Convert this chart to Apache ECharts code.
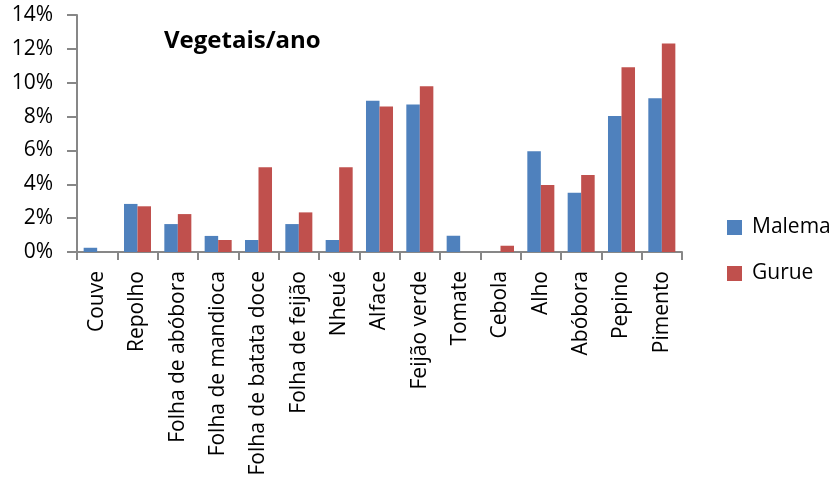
<!DOCTYPE html>
<html>
<head>
<meta charset="utf-8">
<script src="https://cdn.jsdelivr.net/npm/echarts@6/dist/echarts.min.js"></script>
<style>
  html, body { margin: 0; padding: 0; background: #fff; }
  #chart { width: 837px; height: 500px; }
</style>
</head>
<body>
<div id="chart"></div>
<script>
// Share of vegetables consumed per year, by district (percent)
const categories = [
  'Couve', 'Repolho', 'Folha de abóbora', 'Folha de mandioca',
  'Folha de batata doce', 'Folha de feijão', 'Nheué', 'Alface',
  'Feijão verde', 'Tomate', 'Cebola', 'Alho', 'Abóbora', 'Pepino', 'Pimento'
];
const malema = [0.25, 2.84, 1.65, 0.95, 0.71, 1.65, 0.71, 8.94, 8.72, 0.96, 0, 5.95, 3.50, 8.03, 9.08];
const gurue  = [0, 2.70, 2.24, 0.71, 5.0, 2.34, 5.0, 8.59, 9.79, 0, 0.37, 3.96, 4.55, 10.92, 12.32];
const yTicks = [0, 2, 4, 6, 8, 10, 12, 14];

const FONT = 'Open Sans';
const chart = echarts.init(document.getElementById('chart'), null, { renderer: 'canvas' });

chart.setOption({
  animation: false,
  backgroundColor: '#ffffff',
  textStyle: { fontFamily: FONT },
  title: {
    text: 'Vegetais/ano',
    left: 159,
    top: 24,
    textStyle: { fontFamily: FONT, fontSize: 24, fontWeight: 'bold', color: '#000' }
  },
  legend: {
    orient: 'vertical',
    left: 722,
    top: 212,
    itemWidth: 15,
    itemHeight: 15,
    itemGap: 25,
    icon: 'rect',
    textStyle: { fontFamily: FONT, fontSize: 21, color: '#000', padding: [0, 0, 0, 5] },
    data: ['Malema', 'Gurue']
  },
  grid: { left: 77, right: 155, top: 15, bottom: 248, containLabel: false },
  xAxis: {
    type: 'category',
    data: categories,
    axisLine: { lineStyle: { color: '#878787', width: 2 } },
    axisTick: { show: true, length: 8, alignWithLabel: false, lineStyle: { color: '#878787', width: 2 } },
    axisLabel: { rotate: 90, margin: 19, interval: 0, fontFamily: FONT, fontSize: 21, color: '#000' },
    splitLine: { show: false }
  },
  yAxis: {
    type: 'value',
    min: yTicks[0],
    max: yTicks[yTicks.length - 1],
    interval: yTicks[1] - yTicks[0],
    axisLine: { show: true, lineStyle: { color: '#878787', width: 2 } },
    axisTick: { show: true, length: 10, lineStyle: { color: '#878787', width: 2 } },
    axisLabel: { formatter: '{value}%', margin: 24, fontFamily: FONT, fontSize: 21, color: '#000' },
    splitLine: { show: false }
  },
  series: [
    {
      name: 'Malema',
      type: 'bar',
      data: malema,
      barGap: '0%',
      barCategoryGap: '33%',
      itemStyle: { color: '#4F81BD' }
    },
    {
      name: 'Gurue',
      type: 'bar',
      data: gurue,
      barGap: '0%',
      barCategoryGap: '33%',
      itemStyle: { color: '#C0504D' }
    }
  ]
});
</script>
</body>
</html>
